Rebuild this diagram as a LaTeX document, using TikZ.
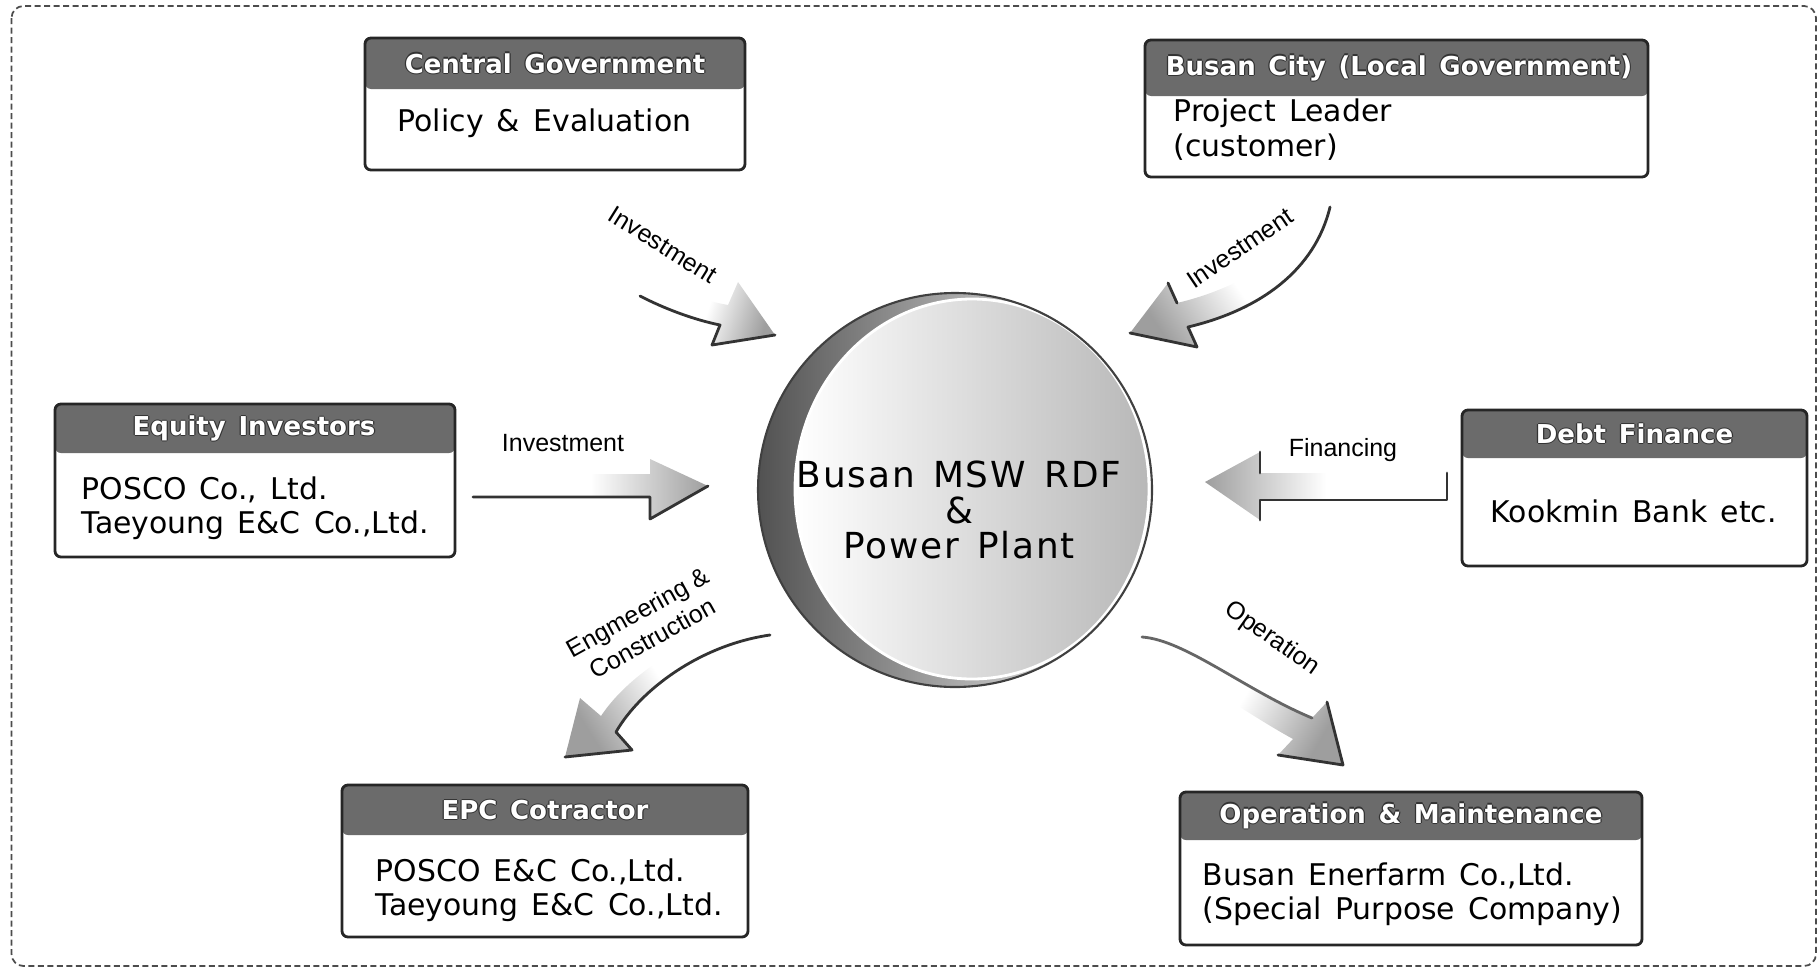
\documentclass[tikz,border=0pt]{standalone}
\usepackage{fontspec}
\setmainfont{DejaVu Sans}[WordSpace=1.4]
\newfontfamily\lblfont{Liberation Sans}
\newfontfamily\plantfont{DejaVu Sans}[WordSpace=1.4, LetterSpace=5]
\usetikzlibrary{positioning, calc}

% white header text with a thin dark rim
\newcommand{\hdtxt}[1]{%
  \leavevmode
  \makebox[0pt][l]{\kern-.35pt\color{black!80}#1}%
  \makebox[0pt][l]{\kern.35pt\color{black!80}#1}%
  \makebox[0pt][l]{\raisebox{.35pt}{\color{black!80}#1}}%
  \makebox[0pt][l]{\raisebox{-.35pt}{\color{black!80}#1}}%
  \textcolor{white}{#1}}

\begin{document}
\begin{tikzpicture}[x=1mm, y=-1mm,
    frame/.style={draw=black!70, line width=0.5pt, dash pattern=on 0.6mm off 0.35mm, rounded corners=1.2mm},
    orgbox/.style={draw=black!85, line width=0.8pt, rounded corners=0.6mm, fill=white, inner sep=0pt, outer sep=0pt,
        path picture={\fill[black!58] (path picture bounding box.north west) rectangle ([yshift=-#1]path picture bounding box.north east);}},
    hdtext/.style={inner sep=0pt, font=\fontsize{7.4pt}{9pt}\selectfont\bfseries},
    bodytext/.style={inner sep=0pt, anchor=west, align=left, font=\fontsize{8.5pt}{9.8pt}\selectfont},
    lbl/.style={inner sep=0pt, align=center, font=\lblfont\fontsize{7.1pt}{8.5pt}\selectfont},
    flow/.style={left color=white, right color=black!38, middle color=white},
    arredge/.style={draw=black!80, line width=0.8pt, line join=round, line cap=round},
    plant/.style={align=center, inner sep=0pt, font=\plantfont\fontsize{10.2pt}{10pt}\selectfont}
]
    \useasboundingbox (0,0) rectangle (182,97.3);
    \draw[frame] (1.15,0.6) rectangle (181.6,96.6);

    % ---------------- CENTRAL PLANT ---------------- %
    \shade[left color=black!68, right color=white] (95.5,49.0) circle[radius=19.7];
    \shadedraw[left color=white, right color=black!28, draw=white, line width=0.8pt] (97.2,48.9) ellipse[x radius=17.7, y radius=19.0];
    \draw[black!75, line width=0.6pt] (95.5,49.0) circle[radius=19.7];
    \node[plant] (plant) at (95.9,51.0) {Busan MSW RDF\\\&\\Power Plant};

    % ---------------- PARTNERS ---------------- %
    \node[orgbox=5.1mm, minimum width=38mm, minimum height=13.2mm] (cg) at (55.5,10.4) {};
    \node[hdtext] (cg-hd) at (55.5,6.35) {\hdtxt{Central Government}};
    \node[bodytext] (cg-txt) at (39.7,12.3) {Policy \& Evaluation};

    \node[orgbox=5.6mm, minimum width=50.3mm, minimum height=13.7mm] (bc) at (139.65,10.85) {};
    \node[hdtext] (bc-hd) at (139.9,6.8) {\hdtxt{Busan City (Local Government)}};
    \node[bodytext] (bc-txt) at (117.3,12.95) {Project Leader\\(customer)};

    \node[orgbox=4.9mm, minimum width=40mm, minimum height=15.3mm] (eq) at (25.5,48.05) {};
    \node[hdtext] (eq-hd) at (25.4,42.85) {\hdtxt{Equity Investors}};
    \node[bodytext] (eq-txt) at (8.1,50.8) {POSCO Co., Ltd.\\Taeyoung E\&C Co.,Ltd.};

    \node[orgbox=4.8mm, minimum width=34.5mm, minimum height=15.6mm] (df) at (163.45,48.8) {};
    \node[hdtext] (df-hd) at (163.45,43.4) {\hdtxt{Debt Finance}};
    \node[bodytext] (df-txt) at (149.0,51.1) {Kookmin Bank etc.};

    \node[orgbox=5.0mm, minimum width=40.6mm, minimum height=15.2mm] (epc) at (54.5,86.1) {};
    \node[hdtext] (epc-hd) at (54.5,81.0) {\hdtxt{EPC Cotractor}};
    \node[bodytext] (epc-txt) at (37.5,89.0) {POSCO E\&C Co.,Ltd.\\Taeyoung E\&C Co.,Ltd.};

    \node[orgbox=4.8mm, minimum width=46.2mm, minimum height=15.3mm] (om) at (141.1,86.85) {};
    \node[hdtext] (om-hd) at (141.1,81.6) {\hdtxt{Operation \& Maintenance}};
    \node[bodytext] (om-txt) at (120.2,89.45) {Busan Enerfarm Co.,Ltd.\\(Special Purpose Company)};

    % ---------------- FLOW ARROWS ---------------- %
    % Investment (central government)
    \shade[flow, shading angle=72] (64.0,29.6) .. controls (66.5,30.9) and (69.5,32.0) .. (72.0,32.5) -- (71.2,34.5) -- (77.5,33.5) -- (73.8,28.2) -- (72.8,30.5) .. controls (70.0,30.0) and (67.5,29.0) .. (65.0,27.5) -- cycle;
    \draw[arredge] (64.0,29.6) .. controls (66.5,30.9) and (69.5,32.0) .. (72.0,32.5) -- (71.2,34.5) -- (77.5,33.5);
    \node[lbl, rotate=-32] (inv-cg) at (66.3,24.5) {Investment};

    % Investment (Busan City)
    \shade[flow, shading angle=304] (133.0,20.7) .. controls (131.5,27.0) and (126.0,31.0) .. (118.8,32.7) -- (119.7,34.7) -- (113.0,33.3) -- (116.8,28.3) -- (117.7,30.3) .. controls (124.0,28.8) and (129.5,25.5) .. (131.2,20.5) -- cycle;
    \draw[arredge] (133.0,20.7) .. controls (131.5,27.0) and (126.0,31.0) .. (118.8,32.7) -- (119.7,34.7) -- (113.0,33.3);
    \draw[arredge] (116.8,28.3) -- (117.7,30.3);
    \node[lbl, rotate=34] (inv-bc) at (124.0,24.8) {Investment};

    % Investment (equity)
    \shade[flow] (47.3,49.7) -- (65.0,49.7) -- (65.0,51.9) -- (70.8,48.6) -- (65.0,45.9) -- (65.0,47.4) -- (47.3,47.4) -- cycle;
    \draw[arredge] (47.3,49.7) -- (65.0,49.7) -- (65.0,51.9) -- (70.8,48.6);
    \node[lbl] (inv-eq) at (56.3,44.3) {Investment};

    % Financing (debt)
    \shade[flow, shading angle=270] (144.7,47.3) -- (126.0,47.3) -- (126.0,45.2) -- (120.5,48.2) -- (126.0,52.0) -- (126.0,50.0) -- (144.7,50.0) -- cycle;
    \draw[arredge] (126.0,52.0) -- (126.0,50.0) -- (144.7,50.0) -- (144.7,47.3);
    \draw[arredge] (126.0,45.2) -- (126.0,47.3);
    \node[lbl] (fin) at (134.3,45.0) {Financing};

    % Engineering & construction
    \shade[flow, shading angle=302] (77.0,63.5) .. controls (70.0,64.5) and (64.0,69.0) .. (61.6,73.2) -- (63.2,75.0) -- (56.5,75.7) -- (58.0,69.8) -- (60.1,71.6) .. controls (63.0,67.2) and (70.0,62.7) .. (76.6,62.2) -- cycle;
    \draw[arredge] (77.0,63.5) .. controls (70.0,64.5) and (64.0,69.0) .. (61.6,73.2) -- (63.2,75.0) -- (56.5,75.7);
    \node[lbl, rotate=29] (ec) at (64.5,62.5) {Engmeering \&\\Construction};

    % Operation
    \shade[flow, shading angle=60] (114.2,63.7) .. controls (118.5,64.0) and (124.5,69.0) .. (131.2,71.8) -- (132.7,70.2) -- (134.3,76.5) -- (127.8,75.5) -- (129.3,73.9) .. controls (124.0,71.0) and (119.0,67.0) .. (114.0,65.7) -- cycle;
    \draw[arredge, black!60] (114.2,63.7) .. controls (118.5,64.0) and (124.5,69.0) .. (131.2,71.8);
    \draw[arredge] (132.7,70.2) -- (134.3,76.5) -- (127.8,75.5);
    \node[lbl, rotate=-35] (op) at (127.2,63.9) {Operation};
\end{tikzpicture}
\end{document}
